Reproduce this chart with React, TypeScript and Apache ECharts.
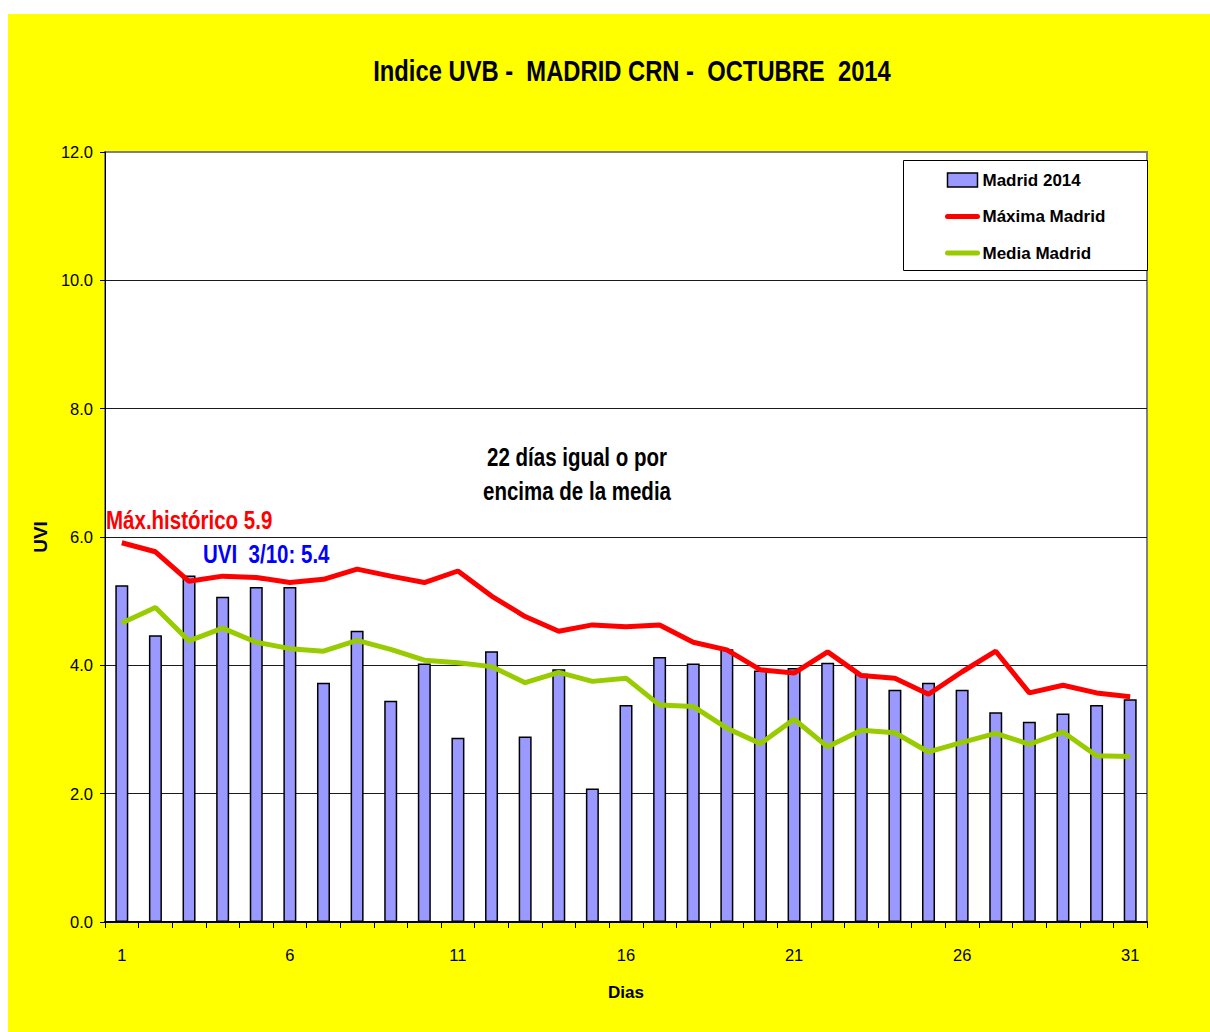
import React, { useEffect, useRef } from "react";
import * as echarts from "echarts";

const days = ["1","2","3","4","5","6","7","8","9","10","11","12","13","14","15","16","17","18","19","20","21","22","23","24","25","26","27","28","29","30","31"];
const madrid2014 = [5.25, 4.47, 5.4, 5.07, 5.22, 5.22, 3.73, 4.54, 3.45, 4.03, 2.87, 4.22, 2.89, 3.94, 2.08, 3.38, 4.13, 4.03, 4.25, 3.92, 3.96, 4.04, 3.87, 3.62, 3.73, 3.62, 3.27, 3.12, 3.25, 3.38, 3.47];
const maximaMadrid = [5.91, 5.77, 5.31, 5.39, 5.37, 5.29, 5.34, 5.5, 5.39, 5.29, 5.47, 5.08, 4.76, 4.53, 4.63, 4.6, 4.63, 4.36, 4.24, 3.93, 3.88, 4.21, 3.84, 3.8, 3.55, 3.9, 4.22, 3.57, 3.69, 3.57, 3.51];
const mediaMadrid = [4.66, 4.9, 4.38, 4.58, 4.36, 4.26, 4.22, 4.39, 4.25, 4.08, 4.04, 3.98, 3.73, 3.89, 3.75, 3.8, 3.38, 3.36, 3.02, 2.78, 3.16, 2.73, 2.99, 2.95, 2.65, 2.8, 2.94, 2.77, 2.96, 2.59, 2.58];
const yTicks = { min: 0, max: 12, interval: 2 };

const seriesNames = ["Madrid 2014", "Máxima Madrid", "Media Madrid"];
const titleText = "Indice UVB -  MADRID CRN -  OCTUBRE  2014";
const noteMax = "Máx.histórico 5.9";
const noteUvi = "UVI  3/10: 5.4";
const noteDays = "22 días igual o por\nencima de la media";

const FONT = "'Liberation Sans', Arial, sans-serif";
const NARROW_SCALE = 0.82;

export default function App() {
  const ref = useRef<HTMLDivElement>(null);
  useEffect(() => {
    if (!ref.current) return;
    const chart = echarts.init(ref.current, undefined, { renderer: "svg" });
    chart.setOption({
      animation: false,
      backgroundColor: "#ffff00",
      textStyle: { fontFamily: FONT },
      grid: {
        left: 97,
        top: 138,
        right: 63,
        bottom: 110,
        show: true,
        backgroundColor: "#ffffff",
        borderColor: "#808080",
        borderWidth: 2,
      },
      legend: {
        orient: "vertical",
        left: 937,
        top: 155,
        padding: 0,
        z: 20,
        itemWidth: 30,
        itemHeight: 14,
        itemGap: 14.5,
        textStyle: { fontFamily: FONT, fontWeight: "bold", fontSize: 17, color: "#000", lineHeight: 22 },
        lineStyle: { width: 5, cap: "round" },
        data: [
          { name: seriesNames[0], icon: "rect", itemStyle: { color: "#9999ff", borderColor: "#000", borderWidth: 1.5 } },
          { name: seriesNames[1], itemStyle: { opacity: 0 } },
          { name: seriesNames[2], itemStyle: { opacity: 0 } },
        ],
      },
      xAxis: {
        type: "category",
        data: days,
        boundaryGap: true,
        name: "Dias",
        nameLocation: "middle",
        nameGap: 62,
        nameTextStyle: { fontFamily: FONT, fontWeight: "bold", fontSize: 17, color: "#000" },
        axisLine: { show: true, lineStyle: { color: "#000", width: 2 } },
        axisTick: { show: true, interval: 0, length: 6, lineStyle: { color: "#000" } },
        axisLabel: { interval: 4, margin: 24, fontSize: 16.5, color: "#000", fontFamily: FONT },
        splitLine: { show: false },
      },
      yAxis: {
        type: "value",
        min: yTicks.min,
        max: yTicks.max,
        interval: yTicks.interval,
        name: "UVI",
        nameLocation: "middle",
        nameGap: 37,
        nameRotate: 90,
        nameTextStyle: { fontFamily: FONT, fontWeight: "bold", fontSize: 19, color: "#000" },
        axisLine: { show: true, lineStyle: { color: "#000", width: 1 } },
        axisTick: { show: true, length: 5, lineStyle: { color: "#000" } },
        axisLabel: {
          margin: 12,
          fontSize: 16.5,
          color: "#000",
          fontFamily: FONT,
          formatter: (v: number) => v.toFixed(1),
        },
        splitLine: { show: true, showMinLine: false, showMaxLine: false, lineStyle: { color: "#1a1a1a", width: 1 } },
      },
      series: [
        {
          name: seriesNames[0],
          type: "bar",
          data: madrid2014,
          barWidth: 13,
          itemStyle: { color: "#9999ff", borderColor: "#000", borderWidth: 1.5 },
        },
        {
          name: seriesNames[1],
          type: "line",
          data: maximaMadrid,
          symbol: "none",
          lineStyle: { color: "#ff0000", width: 5 },
          itemStyle: { color: "#ff0000" },
        },
        {
          name: seriesNames[2],
          type: "line",
          data: mediaMadrid,
          symbol: "none",
          lineStyle: { color: "#99cc00", width: 5 },
          itemStyle: { color: "#99cc00" },
        },
      ],
      graphic: [
        {
          type: "text",
          x: 624,
          y: 57,
          scaleX: NARROW_SCALE,
          style: {
            text: titleText,
            fill: "#000",
            font: `bold 29px ${FONT}`,
            textAlign: "center",
            textVerticalAlign: "middle",
          },
        },
        {
          type: "rect",
          shape: { x: 895.5, y: 146.5, width: 244, height: 110 },
          style: { fill: "#ffffff", stroke: "#000", lineWidth: 1 },
          z: 3,
          silent: true,
        },
        {
          type: "text",
          x: 98,
          y: 506,
          z: 100,
          scaleX: NARROW_SCALE,
          style: {
            text: noteMax,
            fill: "#ff0000",
            font: `bold 25px ${FONT}`,
            textAlign: "left",
            textVerticalAlign: "middle",
          },
        },
        {
          type: "text",
          x: 195,
          y: 540,
          z: 100,
          scaleX: NARROW_SCALE,
          style: {
            text: noteUvi,
            fill: "#0000ff",
            font: `bold 25px ${FONT}`,
            textAlign: "left",
            textVerticalAlign: "middle",
          },
        },
        {
          type: "text",
          x: 569,
          y: 460,
          z: 100,
          scaleX: NARROW_SCALE,
          style: {
            text: noteDays,
            fill: "#000",
            font: `bold 25px ${FONT}`,
            lineHeight: 34,
            textAlign: "center",
            textVerticalAlign: "middle",
          },
        },
      ],
    });
    return () => chart.dispose();
  }, []);
  return (
    <div
      ref={ref}
      style={{ position: "fixed", left: 8, top: 14, width: 1202, height: 1018 }}
    />
  );
}
